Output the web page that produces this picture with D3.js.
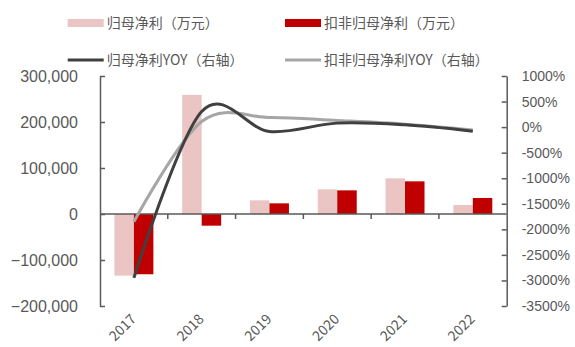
<!DOCTYPE html>
<html><head><meta charset="utf-8">
<script src="https://cdn.jsdelivr.net/npm/d3@7"></script>
<style>
body{margin:0;background:#fff;}
svg{display:block;font-family:"Noto Sans CJK SC","Noto Sans",sans-serif;}
</style></head>
<body><svg id="c" width="575" height="347"></svg>
<script>
const years = ["2017","2018","2019","2020","2021","2022"];
const netProfit = [-134000, 259000, 29700, 53700, 77500, 19600];
const netProfitDeducted = [-131000, -25400, 23200, 51400, 71000, 34800];
const netProfitYoY = [-2950, 305, -86, 78, 45, -80];
const deductedYoY = [-1850, 110, 190, 130, 58, -55];
const leftTicks = [300000, 200000, 100000, 0, -100000, -200000];
const rightTicks = [1000, 500, 0, -500, -1000, -1500, -2000, -2500, -3000, -3500];
const seriesNames = ["归母净利（万元）", "扣非归母净利（万元）", "归母净利YOY（右轴）", "扣非归母净利YOY（右轴）"];

const svg = d3.select("#c");
const L = 100, R = 506.7, T = 76, B = 306;
const axisColor = "#595959", textColor = "#595959";
const pink = "#EBC4C4", red = "#C00000", dark = "#404040", light = "#A6A6A6";

const x = d3.scaleBand().domain(years).range([L, R]).paddingInner(0.425).paddingOuter(0.2125);
const xs = d3.scaleBand().domain([0,1]).range([0, x.bandwidth()]);
const yL = d3.scaleLinear().domain([-200000, 300000]).range([B, T]);
const yR = d3.scaleLinear().domain([-3500, 1000]).range([B, T]);

// bars
const barData = [netProfit, netProfitDeducted];
const barColors = [pink, red];
barData.forEach((arr, si) => {
  svg.append("g").selectAll("rect").data(arr).join("rect")
    .attr("x", (d,i) => x(years[i]) + xs(si))
    .attr("width", xs.bandwidth())
    .attr("y", d => yL(Math.max(0,d)))
    .attr("height", d => Math.abs(yL(d) - yL(0)))
    .attr("fill", barColors[si]);
});

// zero line + category ticks
svg.append("line").attr("x1", L).attr("x2", R).attr("y1", yL(0)).attr("y2", yL(0))
  .attr("stroke", axisColor).attr("stroke-width", 1.5);
const step = x.step();
d3.range(1, years.length).forEach(i => {
  const xx = L + i * (R - L) / years.length;
  svg.append("line").attr("x1", xx).attr("x2", xx).attr("y1", yL(0)).attr("y2", yL(0) + 5)
    .attr("stroke", axisColor).attr("stroke-width", 1.5);
});

// left axis
const gL = svg.append("g").attr("transform", `translate(${L},0)`)
  .call(d3.axisLeft(yL).tickValues(leftTicks).tickSizeInner(-5).tickSizeOuter(0).tickPadding(22)
    .tickFormat(d3.format(",")));
gL.select(".domain").attr("stroke", axisColor).attr("stroke-width", 1.5);
gL.selectAll(".tick line").attr("stroke", axisColor).attr("stroke-width", 1.5);
gL.selectAll(".tick text").attr("fill", textColor).style("font-size", "16px");

// right axis
const gR = svg.append("g").attr("transform", `translate(${R},0)`)
  .call(d3.axisRight(yR).tickValues(rightTicks).tickSizeInner(-5).tickSizeOuter(0).tickPadding(15)
    .tickFormat(d => d + "%"));
gR.select(".domain").attr("stroke", axisColor).attr("stroke-width", 1.5);
gR.selectAll(".tick line").attr("stroke", axisColor).attr("stroke-width", 1.5);
gR.selectAll(".tick text").attr("fill", textColor).style("font-size", "14px");

// x labels
svg.append("g").selectAll("text").data(years).join("text")
  .attr("transform", d => `translate(${x(d) + x.bandwidth()/2 + 3},${B + 14}) rotate(-45)`)
  .attr("text-anchor", "end")
  .attr("fill", textColor).style("font-size", "14px")
  .text(d => d);

// lines
const lineGen = arr => d3.line()
  .x((d,i) => x(years[i]) + x.bandwidth()/2)
  .y(d => yR(d))
  .curve(d3.curveCardinal.tension(0))(arr);
svg.append("path").attr("d", lineGen(deductedYoY)).attr("fill", "none")
  .attr("stroke", light).attr("stroke-width", 3);
svg.append("path").attr("d", lineGen(netProfitYoY)).attr("fill", "none")
  .attr("stroke", dark).attr("stroke-width", 3);

// legend
const leg = [
  {name: seriesNames[0], type: "rect", color: pink, x: 67.7, y: 23},
  {name: seriesNames[1], type: "rect", color: red, x: 285, y: 23},
  {name: seriesNames[2], type: "line", color: dark, x: 67.7, y: 60},
  {name: seriesNames[3], type: "line", color: light, x: 285, y: 60},
];
leg.forEach(l => {
  if (l.type === "rect") {
    svg.append("rect").attr("x", l.x).attr("y", l.y - 4).attr("width", 36).attr("height", 8).attr("fill", l.color);
  } else {
    svg.append("line").attr("x1", l.x).attr("x2", l.x + 36).attr("y1", l.y).attr("y2", l.y)
      .attr("stroke", l.color).attr("stroke-width", 3);
  }
  svg.append("text").attr("x", l.x + 39).attr("y", l.y).attr("dy", "0.36em")
    .attr("fill", textColor).style("font-size", "14px").text(l.name);
});
</script></body></html>
